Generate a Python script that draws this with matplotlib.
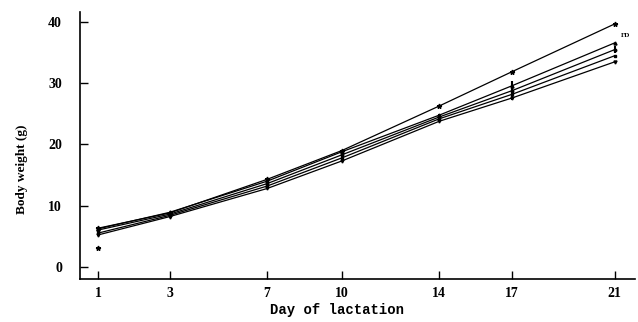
import matplotlib
matplotlib.use("Agg")
import matplotlib.pyplot as plt
import numpy as np

# day of lactation and mean body weight (g) for each group
days = [1, 3, 7, 10, 14, 17, 21]
group_a = [6.3, 8.8, 14.3, 19.0, 26.3, 31.9, 39.7]
group_b = [6.2, 8.9, 14.0, 18.8, 24.8, 29.6, 36.6]
group_c = [6.0, 8.6, 13.6, 18.3, 24.5, 28.8, 35.5]
group_d = [5.5, 8.4, 13.2, 17.8, 24.2, 28.2, 34.5]
group_e = [5.2, 8.2, 12.8, 17.3, 23.8, 27.6, 33.5]
group_c_err = [0.3, 0.3, 0.6, 0.7, 0.4, 1.6, 0.6]
outlier_day = [1]
outlier_weight = [3.1]
yticks = [0, 10, 20, 30, 40]

# the original axis spaces the days unevenly; map them piecewise
_ref_days = np.array([-20, 1, 3, 7, 10, 14, 17, 21, 40])
_ref_pos = np.array([-756, 0, 72, 170, 245, 343, 416, 519, 1008.25])


def fwd(x):
    return np.interp(x, _ref_days, _ref_pos)


def inv(p):
    return np.interp(p, _ref_pos, _ref_days)


plt.rcParams["font.family"] = ["Liberation Serif", "DejaVu Serif"]

fig = plt.figure(figsize=(6.38, 3.22), dpi=100)
ax = fig.add_axes([0.1254, 0.1335, 0.87, 0.83])
ax.set_xscale("function", functions=(fwd, inv))

series = [
    (group_a, "*", 3.5),
    (group_b, "^", 2.2),
    (group_c, "o", 1.8),
    (group_d, "s", 1.8),
    (group_e, "v", 2.2),
]
for values, marker, size in series:
    ax.plot(days, values, color="black", linewidth=0.9, marker=marker,
            markersize=size)

ax.errorbar(days, group_c, yerr=group_c_err, fmt="none", ecolor="black",
            elinewidth=1.5, capsize=0)
ax.plot(outlier_day, outlier_weight, linestyle="none", marker="*",
        markersize=3.5, color="black")
ax.text(21.25, 37.6, "FD", fontsize=5, weight="bold")

ax.set_xlim(0.5, 21.8)
ax.set_ylim(-2, 41.7)
ax.set_xticks(days)
ax.set_xticklabels([str(d) for d in days])
ax.set_yticks(yticks)
ax.minorticks_off()

ax.tick_params(axis="y", direction="in", length=6, width=1, pad=13,
               labelsize=10)
ax.tick_params(axis="x", direction="in", length=6, width=1, pad=6,
               labelsize=10)
for label in ax.get_xticklabels() + ax.get_yticklabels():
    label.set_fontweight("bold")

ax.spines["top"].set_visible(False)
ax.spines["right"].set_visible(False)
ax.spines["left"].set_linewidth(1.2)
ax.spines["bottom"].set_linewidth(1.2)

ax.set_xlabel("Day of lactation", fontsize=10, weight="bold",
              family=["Liberation Mono", "DejaVu Sans Mono"])
ax.xaxis.set_label_coords(0.463, -0.09)
ax.set_ylabel("Body weight (g)", fontsize=9.5, weight="bold")
ax.yaxis.set_label_coords(-0.094, 0.41)

fig.savefig("out.png", dpi=100)
